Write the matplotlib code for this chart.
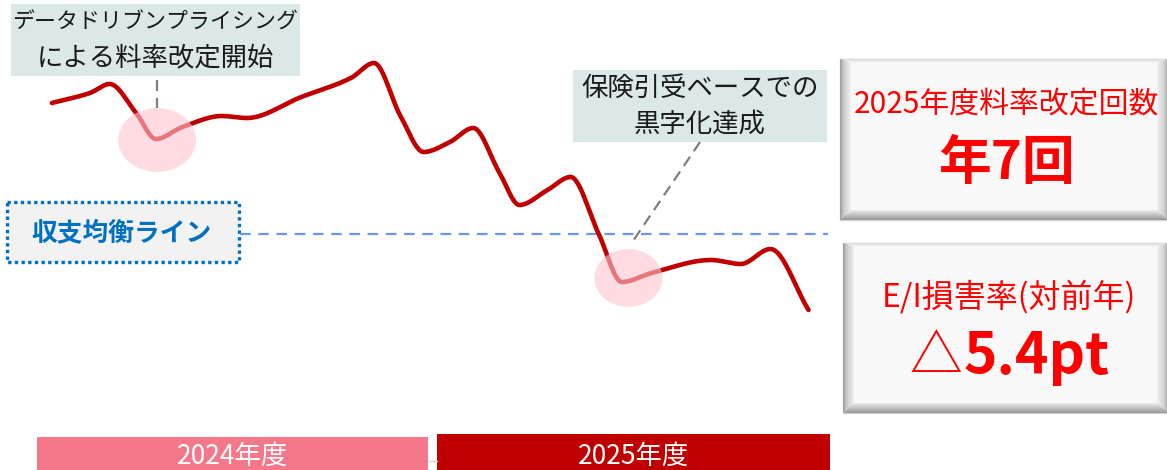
import numpy as np
import matplotlib
matplotlib.use("Agg")
import matplotlib.pyplot as plt
from matplotlib.patches import Rectangle, Ellipse, Polygon
from matplotlib.colors import to_rgb

plt.rcParams['font.family'] = ['Noto Sans CJK JP', 'DejaVu Sans']

# ---------------- data ----------------
# month position (0 = start of FY2024, 12 = start of FY2025, 24 = end of FY2025)
months = [0.45, 1.6, 2.2, 3.0, 3.6, 4.4, 5.6, 6.35, 8.0, 9.5, 10.2, 11.0, 11.7,
          12.5, 13.2, 14.0, 14.6, 15.45, 16.15, 17.0, 17.7, 18.6, 20.4, 21.3,
          22.2, 23.35]
# underwriting ratio index (break-even = 100)
ratio = [113.1, 114.1, 115.0, 112.1, 109.5, 110.7, 111.8, 111.6, 113.7, 115.6,
         117.1, 111.8, 108.2, 109.2, 110.6, 106.1, 102.9, 104.4, 105.7, 100.0,
         95.2, 96.1, 97.4, 97.0, 98.5, 92.4]
breakeven = 100.0
fiscal_years = ["2024年度", "2025年度"]
fy_start = [0, 12]
fy_end = [12, 24]
event_points = [(3.636, 109.4), (17.9, 95.6)]
event_labels = [["データドリブンプライシング", "による料率改定開始"],
                ["保険引受ベースでの", "黒字化達成"]]
breakeven_label = "収支均衡ライン"
kpi_titles = ["2025年度料率改定回数", "E/I損害率(対前年)"]
kpi_values = ["年7回", "5.4pt"]
kpi_prefix = ["", "△"]


def pchip(x, y, xs):
    x = np.asarray(x, float); y = np.asarray(y, float)
    h = np.diff(x); d = np.diff(y) / h
    n = len(x); m = np.zeros(n)
    for k in range(1, n - 1):
        if d[k - 1] * d[k] <= 0:
            m[k] = 0.0
        else:
            w1 = 2 * h[k] + h[k - 1]; w2 = h[k] + 2 * h[k - 1]
            m[k] = (w1 + w2) / (w1 / d[k - 1] + w2 / d[k])
    m[0] = d[0]; m[-1] = d[-1]
    idx = np.clip(np.searchsorted(x, xs) - 1, 0, n - 2)
    t = (xs - x[idx]) / h[idx]
    h00 = 2 * t**3 - 3 * t**2 + 1; h10 = t**3 - 2 * t**2 + t
    h01 = -2 * t**3 + 3 * t**2; h11 = t**3 - t**2
    return (h00 * y[idx] + h10 * h[idx] * m[idx] + h01 * y[idx + 1]
            + h11 * h[idx] * m[idx + 1])


W, H = 1167, 470
fig = plt.figure(figsize=(W / 100, H / 100), dpi=100)

# overlay axes in pixel coordinates for decorations
ov = fig.add_axes([0, 0, 1, 1], zorder=0)
ov.set_xlim(0, W); ov.set_ylim(H, 0); ov.axis('off')

# line axes
ax = fig.add_axes([37 / W, 40 / H, 793 / W, 430 / H], zorder=1)
ax.set_facecolor('none')
ax.set_xlim(0, 24); ax.set_ylim(80.4, 123.4); ax.axis('off')

xs = np.linspace(months[0], months[-1], 800)
ax.plot(xs, pchip(months, ratio, xs), color='#c00000', lw=3.3,
        solid_capstyle='round', zorder=3)
ax.hlines(breakeven, 6.15, 23.94, colors='#6699ee', lw=1.6,
          linestyles=(0, (4.8, 3.4)), zorder=2)

# event ellipses
ell_w = [2.36, 2.06]
ell_h = [6.4, 5.8]
for (ex, ey), w, hh in zip(event_points, ell_w, ell_h):
    ax.add_patch(Ellipse((ex, ey), w, hh, facecolor='#ffc6d0', alpha=0.6,
                         edgecolor='none', zorder=4))

# leader lines
ov.plot([157, 157], [80, 108], color='#7f7f7f', lw=1.6, dashes=(5, 3))
ov.plot([700, 631], [142, 244], color='#7f7f7f', lw=1.6, dashes=(5, 3))

# annotation boxes
ann_boxes = [(11, 4, 300, 76), (573, 70, 827, 142)]
ann_cx = [155, 700]
ann_sizes = [[15.8, 19], [19, 19]]
for (x0, y0, x1, y1), cx, lines, sz in zip(ann_boxes, ann_cx, event_labels, ann_sizes):
    ov.add_patch(Rectangle((x0, y0), x1 - x0, y1 - y0, facecolor='#dce8e8',
                           edgecolor='none'))
    ov.text(cx, y0 + (y1 - y0) * 0.26, lines[0], ha='center', va='center',
            fontsize=sz[0], color='#1a1a1a')
    ov.text(cx, y0 + (y1 - y0) * 0.75, lines[1], ha='center', va='center',
            fontsize=sz[1], color='#1a1a1a')

# break-even label box
ov.add_patch(Rectangle((7, 202), 232, 60, facecolor='#f2f2f2', edgecolor='#0070c0',
                       lw=2.4, linestyle=(0, (1, 1))))
ov.text(122, 233, breakeven_label, ha='center', va='center', fontsize=18.5,
        fontweight='bold', color='#0070c0')


# bevel KPI boxes
def lerp(c0, c1, f):
    a = np.array(to_rgb(c0)); b = np.array(to_rgb(c1))
    return tuple(a + (b - a) * f)


def bevel_box(x0, y0, x1, y1, bl=11, bt=4, br=11, bb=10, n=10):
    ov.add_patch(Rectangle((x0, y0), x1 - x0, y1 - y0, facecolor='#f9f9f9',
                           edgecolor='#d4d4d4', lw=1))
    cols = {'l': ('#9a9a9a', '#f4f4f4'), 't': ('#d8d8d8', '#f7f7f7'),
            'r': ('#a4a4a4', '#f4f4f4'), 'b': ('#979797', '#ececec')}

    def corners(f):
        return ((x0 + bl * f, y0 + bt * f), (x1 - br * f, y0 + bt * f),
                (x1 - br * f, y1 - bb * f), (x0 + bl * f, y1 - bb * f))
    for i in range(n):
        f0, f1 = i / n, (i + 1) / n
        o = corners(f0); q = corners(f1); fm = (f0 + f1) / 2
        polys = {'t': [o[0], o[1], q[1], q[0]], 'r': [o[1], o[2], q[2], q[1]],
                 'b': [o[2], o[3], q[3], q[2]], 'l': [o[3], o[0], q[0], q[3]]}
        for k, pts in polys.items():
            ov.add_patch(Polygon(pts, closed=True, facecolor=lerp(*cols[k], fm),
                                 edgecolor='none'))


bevel_box(840, 59, 1168, 220)
bevel_box(843, 243, 1168, 413)

ov.text(1006, 105, kpi_titles[0], ha='center', va='center', fontsize=21.5, color='#ff0000')
ov.text(1006, 163, kpi_values[0], ha='center', va='center', fontsize=38,
        fontweight='bold', color='#ff0000')
ov.text(1009, 297, kpi_titles[1], ha='center', va='center', fontsize=23, color='#ff0000')
ov.text(962, 357, kpi_prefix[1], ha='right', va='center', fontsize=38, color='#ff0000')
ov.text(964, 357, kpi_values[1], ha='left', va='center', fontsize=41,
        fontweight='bold', color='#ff0000')

# fiscal-year bars
bar_cols = ['#f4788a', '#c00000']
bar_top = [437, 434]
bar_trim = [(0, -5), (4, 0)]
for i, (lab, s, e) in enumerate(zip(fiscal_years, fy_start, fy_end)):
    x0 = 37 + s * 33.04 + bar_trim[i][0]
    x1 = 37 + e * 33.04 + bar_trim[i][1]
    ov.add_patch(Rectangle((x0, bar_top[i]), x1 - x0, H - bar_top[i] + 5,
                           facecolor=bar_cols[i], edgecolor='none'))
    ov.text((x0 + x1) / 2, 456, lab, ha='center', va='center', fontsize=19,
            color='white')
ov.plot([429, 437], [461, 461], color='#d0d0d0', lw=1)

fig.savefig('out.png', dpi=100)
